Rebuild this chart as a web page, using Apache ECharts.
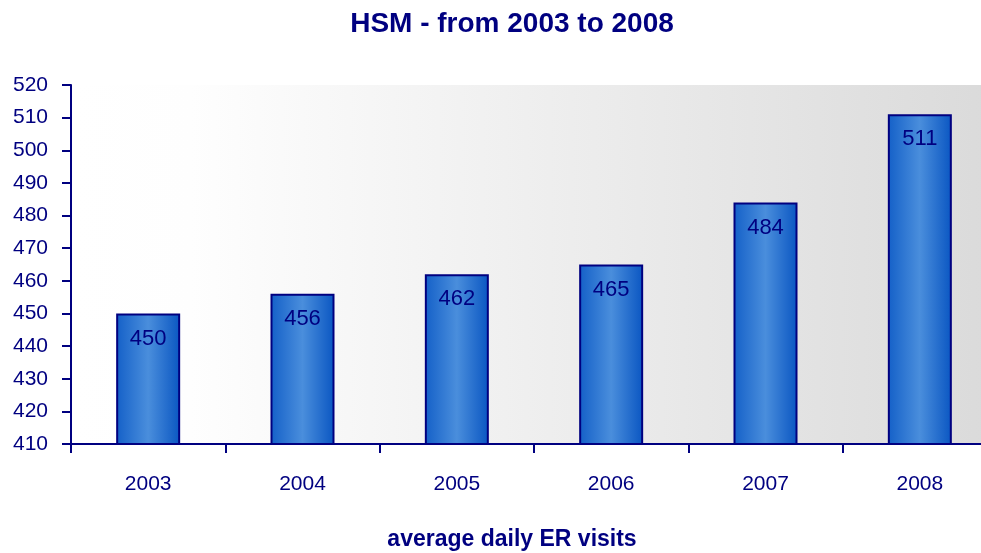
<!DOCTYPE html>
<html>
<head>
<meta charset="utf-8">
<script src="https://cdn.jsdelivr.net/npm/echarts@6/dist/echarts.min.js"></script>
<style>
    html, body { margin: 0; padding: 0; background: #fff; }
    #main { width: 981px; height: 553px; }
</style>
</head>
<body>
<div id="main"></div>
<script>
const years = ["2003", "2004", "2005", "2006", "2007", "2008"];
const visits = [450, 456, 462, 465, 484, 511];
const yMin = 410;
const yMax = 520;
const yStep = 10;

const navy = "#000080";
const font = "'Liberation Sans', Arial, sans-serif";

const chart = echarts.init(document.getElementById("main"));

let option = {
    animation: false,
    title: {
        text: "HSM - from 2003 to 2008",
        left: 507,
        top: 5,
        textAlign: "center",
        textStyle: {
            color: navy,
            fontFamily: font,
            fontWeight: "bold",
            fontSize: 28
        }
    },
    grid: {
        left: 71,
        top: 85,
        width: 926,
        height: 359,
        outerBoundsMode: "none",
        show: true,
        borderWidth: 0,
        backgroundColor: new echarts.graphic.LinearGradient(0, 0, 1, 0, [
            { offset: 0, color: "#ffffff" },
            { offset: 0.13, color: "#fefefe" },
            { offset: 1, color: "#dadada" }
        ])
    },
    xAxis: {
        type: "category",
        data: years,
        name: "average daily ER visits",
        nameLocation: "middle",
        nameGap: 84,
        nameTextStyle: {
            color: navy,
            fontFamily: font,
            fontWeight: "bold",
            fontSize: 23,
            padding: [0, 0, 0, -44]
        },
        axisLine: { lineStyle: { color: navy, width: 2 } },
        axisTick: { show: true, length: 9, lineStyle: { color: navy, width: 2 } },
        axisLabel: {
            color: navy,
            fontFamily: font,
            fontSize: 21,
            margin: 30
        }
    },
    yAxis: {
        type: "value",
        min: yMin,
        max: yMax,
        interval: yStep,
        splitLine: { show: false },
        axisLine: { show: true, lineStyle: { color: navy, width: 2 } },
        axisTick: { show: true, length: 9, lineStyle: { color: navy, width: 2 } },
        axisLabel: {
            color: navy,
            fontFamily: font,
            fontSize: 21,
            margin: 23
        }
    },
    series: [
        {
            type: "bar",
            data: visits,
            barWidth: 64,
            itemStyle: {
                color: new echarts.graphic.LinearGradient(0, 0, 1, 0, [
                    { offset: 0, color: "#1460c8" },
                    { offset: 0.5, color: "#4a8edc" },
                    { offset: 1, color: "#0a56c2" }
                ]),
                borderColor: navy,
                borderWidth: 2
            },
            label: {
                show: true,
                position: "insideTop",
                distance: 14,
                color: navy,
                fontFamily: font,
                fontSize: 22
            }
        }
    ]
};

chart.setOption(option);
</script>
</body>
</html>
